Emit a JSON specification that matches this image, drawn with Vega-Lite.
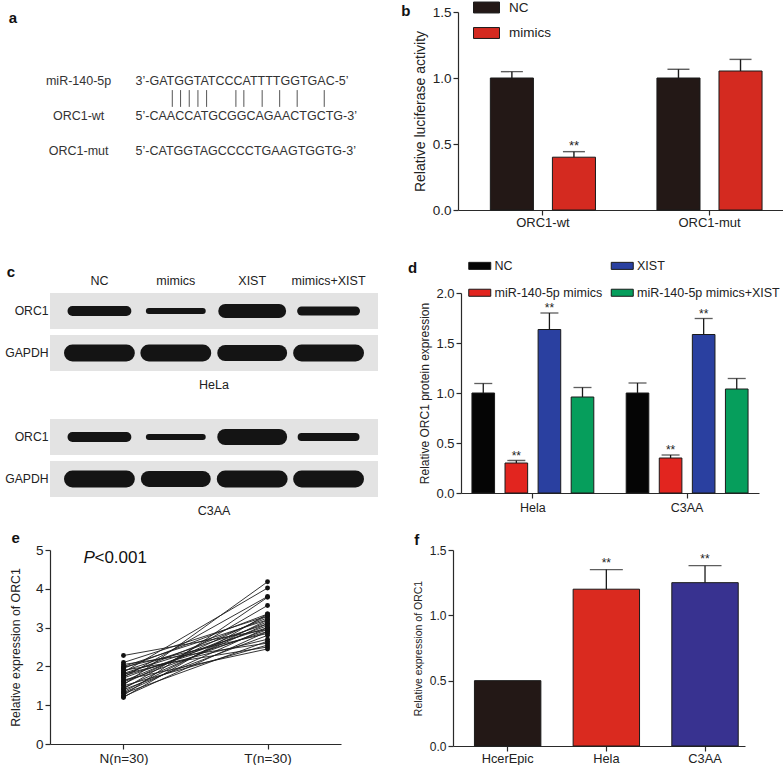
{
"$schema":"https://vega.github.io/schema/vega-lite/v6.json",
"background":"white",
"padding":{"left":4,"top":0,"right":0,"bottom":0},
"spacing":30,
"resolve":{"scale":{"color":"independent","xOffset":"independent","strokeWidth":"independent"},"legend":{"color":"independent"}},
"config":{
 "font":"Liberation Sans",
 "view":{"stroke":null},
 "axis":{"grid":false,"domainColor":"#2a2a2a","tickColor":"#2a2a2a","labelColor":"#222222","titleColor":"#222222","domainWidth":1.2,"tickWidth":1.2,"tickSize":5,"labelFontSize":13,"titleFontSize":12.5,"titleFontWeight":"normal","labelPadding":2,"titlePadding":4,"labelFont":"Liberation Sans","titleFont":"Liberation Sans"},
 "legend":{"labelColor":"#222222","labelFont":"Liberation Sans"},
 "title":{"fontSize":15,"fontWeight":"bold","anchor":"start","frame":"bounds","color":"#111111","offset":0,"font":"Liberation Sans"}
},
"vconcat":[
 {"hconcat":[
  {"width":331,"height":198,
   "data":{"values":[
    {"label":"miR-140-5p","seq":"3’-GATGGTATCCCATTTTGGTGAC-5’","line":0},
    {"label":"ORC1-wt","seq":"5’-CAACCATGCGGCAGAACTGCTG-3’","line":1},
    {"label":"ORC1-mut","seq":"5’-CATGGTAGCCCCTGAAGTGGTG-3’","line":2}
   ]},
   "layer":[
    {"mark":{"type":"text","align":"center","baseline":"middle","fontSize":12.5,"color":"#333333"},
     "encoding":{"x":{"datum":-7.16,"type":"quantitative","scale":{"domain":[-10.754,30.83],"nice":false,"zero":false},"axis":null},
      "y":{"field":"line","type":"quantitative","scale":{"domain":[-1.971,3.686],"nice":false,"zero":false,"reverse":true},"axis":null},
      "text":{"field":"label"}}},
    {"mark":{"type":"text","align":"left","baseline":"middle","fontSize":12.5,"color":"#333333"},
     "encoding":{"x":{"datum":0,"type":"quantitative"},"y":{"field":"line","type":"quantitative"},"text":{"field":"seq"}}},
    {"data":{"values":[{"pos":4.61},{"pos":5.65},{"pos":6.74},{"pos":7.83},{"pos":8.92},{"pos":12.6},{"pos":13.6},{"pos":15.9},{"pos":18.1},{"pos":20.3},{"pos":23.7}]},
     "mark":{"type":"rule","color":"#555555","strokeWidth":1},
     "encoding":{"x":{"field":"pos","type":"quantitative"},"y":{"datum":0.26,"type":"quantitative"},"y2":{"datum":0.74}}},
    {"data":{"values":[{"letter":"a"}]},
     "mark":{"type":"text","align":"left","baseline":"middle","fontSize":15,"fontWeight":"bold","color":"#111111"},
     "encoding":{"x":{"datum":-15.95,"type":"quantitative"},"y":{"datum":-1.80,"type":"quantitative"},"text":{"field":"letter"}}}
   ]},
  {"width":325,"height":198,
   "title":{"text":"b","dx":-12,"dy":22.5},
   "data":{"values":[
    {"target":"ORC1-wt","group":"NC","value":1.0,"upper":1.048,"sig":""},
    {"target":"ORC1-wt","group":"mimics","value":0.40,"upper":0.442,"sig":"**"},
    {"target":"ORC1-mut","group":"NC","value":1.0,"upper":1.066,"sig":""},
    {"target":"ORC1-mut","group":"mimics","value":1.053,"upper":1.141,"sig":""}
   ]},
   "encoding":{
    "x":{"field":"target","type":"nominal","sort":["ORC1-wt","ORC1-mut"],"scale":{"paddingInner":0.369,"paddingOuter":0.16,"align":0.607},"axis":{"title":null,"labelAngle":0,"labelFontSize":13,"labelPadding":1}},
    "xOffset":{"field":"group","type":"nominal","sort":["NC","mimics"],"scale":{"paddingInner":0.306,"paddingOuter":0}},
    "y":{"field":"value","type":"quantitative","scale":{"domain":[0,1.5],"nice":false},"title":"Relative luciferase activity","axis":{"titleFontSize":14,"values":[0,0.5,1,1.5],"format":".1f","labelFontSize":13.5,"titlePadding":5}}
   },
   "layer":[
    {"mark":{"type":"bar","stroke":"#1a1a1a","strokeWidth":1},
     "encoding":{"color":{"field":"group","type":"nominal","scale":{"domain":["NC","mimics"],"range":["#231816","#d42a20"]},
      "legend":{"title":null,"orient":"none","legendX":21.5,"legendY":-11.5,"symbolType":"M-2,-0.84H2V0.84H-2Z","symbolSize":169,"symbolStrokeColor":"#1a1a1a","symbolStrokeWidth":1,"symbolOpacity":1,"labelFontSize":13.5,"labelOffset":15.5,"rowPadding":9.5}}}},
    {"mark":{"type":"rule","color":"#1a1a1a","strokeWidth":1.4},"encoding":{"y2":{"field":"upper"}}},
    {"mark":{"type":"tick","color":"#1a1a1a","thickness":1.4,"size":22},"encoding":{"y":{"field":"upper","type":"quantitative","title":"Relative luciferase activity"}}},
    {"transform":[{"filter":"datum.sig != ''"}],"mark":{"type":"text","dy":-6,"fontSize":13,"color":"#222222"},"encoding":{"y":{"field":"upper","type":"quantitative","title":"Relative luciferase activity"},"text":{"field":"sig"}}}
   ]}
 ],"spacing":20,"resolve":{"scale":{"color":"independent","xOffset":"independent"},"legend":{"color":"independent"}}},
 {"vconcat":[
 {"hconcat":[
  {"width":328,"height":204,
   "title":{"text":"c","dx":2,"dy":10},
   "layer":[
    {"data":{"values":[{"row":"HeLa ORC1"},{"row":"HeLa GAPDH"},{"row":"C3AA ORC1"},{"row":"C3AA GAPDH"}]},
     "mark":{"type":"rect","color":"#e3e3e3"},
     "encoding":{"y":{"field":"row","type":"nominal","scale":{"domain":["HeLa ORC1","HeLa GAPDH","gap","C3AA ORC1","C3AA GAPDH"],"paddingInner":0.14,"paddingOuter":0},
      "axis":{"title":null,"domain":false,"ticks":false,"labelPadding":2,"labelFontSize":12.2,"labelExpr":"indexof(datum.value,'GAPDH')>=0 ? 'GAPDH' : (indexof(datum.value,'ORC1')>=0 ? 'ORC1' : '')"}}}},
    {"data":{"values":[
     {"row":"HeLa ORC1","lane":"NC","signal":10},
     {"row":"HeLa ORC1","lane":"mimics","signal":6},
     {"row":"HeLa ORC1","lane":"XIST","signal":14},
     {"row":"HeLa ORC1","lane":"mimics+XIST","signal":9},
     {"row":"HeLa GAPDH","lane":"NC","signal":17},
     {"row":"HeLa GAPDH","lane":"mimics","signal":17},
     {"row":"HeLa GAPDH","lane":"XIST","signal":16},
     {"row":"HeLa GAPDH","lane":"mimics+XIST","signal":17},
     {"row":"C3AA ORC1","lane":"NC","signal":10},
     {"row":"C3AA ORC1","lane":"mimics","signal":6},
     {"row":"C3AA ORC1","lane":"XIST","signal":16},
     {"row":"C3AA ORC1","lane":"mimics+XIST","signal":8},
     {"row":"C3AA GAPDH","lane":"NC","signal":17},
     {"row":"C3AA GAPDH","lane":"mimics","signal":16},
     {"row":"C3AA GAPDH","lane":"XIST","signal":17},
     {"row":"C3AA GAPDH","lane":"mimics+XIST","signal":17}
    ]},
     "mark":{"type":"point","shape":"stroke","filled":false,"strokeCap":"round","size":2900,"color":"#141414","opacity":1},
     "encoding":{"x":{"field":"lane","type":"nominal","scale":{"type":"band","domain":["NC","mimics","XIST","mimics+XIST"],"paddingInner":0,"paddingOuter":0.147},
       "axis":{"orient":"top","title":null,"domain":false,"ticks":false,"labelAngle":0,"labelPadding":6,"labelFontSize":12.5}},
      "y":{"field":"row","type":"nominal"},
      "strokeWidth":{"field":"signal","type":"quantitative","scale":{"domain":[0,20],"range":[0,20]},"legend":null}}},
    {"data":{"values":[{"cell":"HeLa","row":"HeLa GAPDH","at":"XIST"},{"cell":"C3AA","row":"C3AA GAPDH","at":"XIST"}]},
     "mark":{"type":"text","fontSize":12.5,"color":"#222222","dy":32},
     "encoding":{"x":{"field":"at","type":"nominal","bandPosition":0},"y":{"field":"row","type":"nominal"},"text":{"field":"cell"}}}
   ]},
  {"width":298,"height":200,
   "title":{"text":"d","dx":-11,"dy":20.5},
   "data":{"values":[
    {"cell":"Hela","group":"NC","value":1.0,"upper":1.095,"sig":""},
    {"cell":"Hela","group":"miR-140-5p mimics","value":0.30,"upper":0.325,"sig":"**"},
    {"cell":"Hela","group":"XIST","value":1.635,"upper":1.80,"sig":"**"},
    {"cell":"Hela","group":"miR-140-5p mimics+XIST","value":0.96,"upper":1.055,"sig":""},
    {"cell":"C3AA","group":"NC","value":1.0,"upper":1.10,"sig":""},
    {"cell":"C3AA","group":"miR-140-5p mimics","value":0.35,"upper":0.38,"sig":"**"},
    {"cell":"C3AA","group":"XIST","value":1.585,"upper":1.745,"sig":"**"},
    {"cell":"C3AA","group":"miR-140-5p mimics+XIST","value":1.04,"upper":1.145,"sig":""}
   ]},
   "encoding":{
    "x":{"field":"cell","type":"nominal","sort":["Hela","C3AA"],"scale":{"paddingInner":0.21,"paddingOuter":0.071},"axis":{"title":null,"labelAngle":0,"labelFontSize":12.5,"labelPadding":3}},
    "xOffset":{"field":"group","type":"nominal","sort":["NC","miR-140-5p mimics","XIST","miR-140-5p mimics+XIST"],"scale":{"paddingInner":0.316,"paddingOuter":0}},
    "y":{"field":"value","type":"quantitative","scale":{"domain":[0,2],"nice":false},"title":"Relative  ORC1 protein expression","axis":{"titleFontSize":12,"values":[0,0.5,1,1.5,2],"format":".1f","labelFontSize":13,"titlePadding":4}}
   },
   "layer":[
    {"mark":{"type":"bar","stroke":"#1a1a1a","strokeWidth":1},
     "encoding":{"color":{"field":"group","type":"nominal","scale":{"domain":["NC","miR-140-5p mimics","XIST","miR-140-5p mimics+XIST"],"range":["#050505","#e2251f","#2a40a0","#069e5c"]},
      "legend":{"title":null,"orient":"none","legendX":12.5,"legendY":-33.5,"columns":2,"columnPadding":6.5,"rowPadding":14,"symbolType":"M-2,-0.64H2V0.64H-2Z","symbolSize":121,"symbolStrokeColor":"#1a1a1a","symbolStrokeWidth":1,"symbolOpacity":1,"labelFontSize":12.5,"labelOffset":8.5}}}},
    {"mark":{"type":"rule","color":"#1a1a1a","strokeWidth":1.3},"encoding":{"y2":{"field":"upper"}}},
    {"mark":{"type":"tick","color":"#1a1a1a","thickness":1.3,"size":18},"encoding":{"y":{"field":"upper","type":"quantitative","title":"Relative  ORC1 protein expression"}}},
    {"transform":[{"filter":"datum.sig != ''"}],"mark":{"type":"text","dy":-5,"fontSize":12,"color":"#222222"},"encoding":{"y":{"field":"upper","type":"quantitative","title":"Relative  ORC1 protein expression"},"text":{"field":"sig"}}}
   ]}
 ],"spacing":17,"resolve":{"scale":{"color":"independent","xOffset":"independent","strokeWidth":"independent"},"legend":{"color":"independent"}}},
 {"hconcat":[
  {"width":291,"height":194,
   "title":{"text":"e","dx":2,"dy":7},
   "data":{"values":[
    {"id":1,"g":"N(n=30)","v":2.28},{"id":1,"g":"T(n=30)","v":2.95},
    {"id":2,"g":"N(n=30)","v":2.10},{"id":2,"g":"T(n=30)","v":3.30},
    {"id":3,"g":"N(n=30)","v":2.05},{"id":3,"g":"T(n=30)","v":2.60},
    {"id":4,"g":"N(n=30)","v":2.00},{"id":4,"g":"T(n=30)","v":3.20},
    {"id":5,"g":"N(n=30)","v":1.98},{"id":5,"g":"T(n=30)","v":2.85},
    {"id":6,"g":"N(n=30)","v":1.95},{"id":6,"g":"T(n=30)","v":3.35},
    {"id":7,"g":"N(n=30)","v":1.90},{"id":7,"g":"T(n=30)","v":2.50},
    {"id":8,"g":"N(n=30)","v":1.88},{"id":8,"g":"T(n=30)","v":3.10},
    {"id":9,"g":"N(n=30)","v":1.85},{"id":9,"g":"T(n=30)","v":4.02},
    {"id":10,"g":"N(n=30)","v":1.82},{"id":10,"g":"T(n=30)","v":3.00},
    {"id":11,"g":"N(n=30)","v":1.80},{"id":11,"g":"T(n=30)","v":2.70},
    {"id":12,"g":"N(n=30)","v":1.78},{"id":12,"g":"T(n=30)","v":3.25},
    {"id":13,"g":"N(n=30)","v":1.75},{"id":13,"g":"T(n=30)","v":2.90},
    {"id":14,"g":"N(n=30)","v":1.72},{"id":14,"g":"T(n=30)","v":3.80},
    {"id":15,"g":"N(n=30)","v":1.70},{"id":15,"g":"T(n=30)","v":3.05},
    {"id":16,"g":"N(n=30)","v":1.65},{"id":16,"g":"T(n=30)","v":2.45},
    {"id":17,"g":"N(n=30)","v":1.62},{"id":17,"g":"T(n=30)","v":3.15},
    {"id":18,"g":"N(n=30)","v":1.60},{"id":18,"g":"T(n=30)","v":2.95},
    {"id":19,"g":"N(n=30)","v":1.55},{"id":19,"g":"T(n=30)","v":3.30},
    {"id":20,"g":"N(n=30)","v":1.52},{"id":20,"g":"T(n=30)","v":4.18},
    {"id":21,"g":"N(n=30)","v":1.50},{"id":21,"g":"T(n=30)","v":2.55},
    {"id":22,"g":"N(n=30)","v":1.45},{"id":22,"g":"T(n=30)","v":3.10},
    {"id":23,"g":"N(n=30)","v":1.42},{"id":23,"g":"T(n=30)","v":3.57},
    {"id":24,"g":"N(n=30)","v":1.40},{"id":24,"g":"T(n=30)","v":2.80},
    {"id":25,"g":"N(n=30)","v":1.35},{"id":25,"g":"T(n=30)","v":3.20},
    {"id":26,"g":"N(n=30)","v":1.32},{"id":26,"g":"T(n=30)","v":3.00},
    {"id":27,"g":"N(n=30)","v":1.30},{"id":27,"g":"T(n=30)","v":2.65},
    {"id":28,"g":"N(n=30)","v":1.25},{"id":28,"g":"T(n=30)","v":3.78},
    {"id":29,"g":"N(n=30)","v":1.22},{"id":29,"g":"T(n=30)","v":2.90},
    {"id":30,"g":"N(n=30)","v":1.20},{"id":30,"g":"T(n=30)","v":3.35}
   ]},
   "encoding":{
    "x":{"field":"g","type":"nominal","sort":["N(n=30)","T(n=30)"],"scale":{"type":"point","padding":0.51},"axis":{"title":null,"labelAngle":0,"labelFontSize":13.5,"labelPadding":2}},
    "y":{"field":"v","type":"quantitative","scale":{"domain":[0,5],"nice":false},"title":"Relative expression of ORC1","axis":{"titleFontSize":12.3,"values":[0,1,2,3,4,5],"labelFontSize":13.5,"titlePadding":13}}
   },
   "layer":[
    {"mark":{"type":"line","color":"#1e1e1e","strokeWidth":0.9},"encoding":{"detail":{"field":"id","type":"nominal"}}},
    {"mark":{"type":"point","filled":true,"size":24,"color":"#111111","opacity":1}},
    {"data":{"values":[{"p":"P","rest":"<0.001","g":"N(n=30)","v":4.8}]},
     "mark":{"type":"text","align":"left","baseline":"middle","fontSize":17,"fontStyle":"italic","dx":-40,"color":"#111111"},
     "encoding":{"text":{"field":"p"}}},
    {"data":{"values":[{"p":"P","rest":"<0.001","g":"N(n=30)","v":4.8}]},
     "mark":{"type":"text","align":"left","baseline":"middle","fontSize":17,"dx":-29,"color":"#111111"},
     "encoding":{"text":{"field":"rest"}}}
   ]},
  {"width":292,"height":196,
   "title":{"text":"f","dx":1,"dy":8},
   "data":{"values":[
    {"cell":"HcerEpic","value":0.5,"upper":0.5,"sig":""},
    {"cell":"Hela","value":1.20,"upper":1.35,"sig":"**"},
    {"cell":"C3AA","value":1.25,"upper":1.38,"sig":"**"}
   ]},
   "encoding":{
    "x":{"field":"cell","type":"nominal","sort":["HcerEpic","Hela","C3AA"],"scale":{"paddingInner":0.327,"paddingOuter":0.143,"align":0.76},"axis":{"title":null,"labelAngle":0,"labelFontSize":12.8,"labelPadding":1}},
    "y":{"field":"value","type":"quantitative","scale":{"domain":[0,1.5],"nice":false},"title":"Relative expression of ORC1","axis":{"titleFontSize":10.5,"values":[0,0.5,1,1.5],"format":".1f","labelFontSize":12,"titlePadding":6}}
   },
   "layer":[
    {"mark":{"type":"bar","stroke":"#1a1a1a","strokeWidth":1},
     "encoding":{"color":{"field":"cell","type":"nominal","scale":{"domain":["HcerEpic","Hela","C3AA"],"range":["#231816","#da2a1f","#383290"]},"legend":null}}},
    {"transform":[{"filter":"datum.upper > datum.value"}],"mark":{"type":"rule","color":"#1a1a1a","strokeWidth":1.3},"encoding":{"y2":{"field":"upper"}}},
    {"transform":[{"filter":"datum.upper > datum.value"}],"mark":{"type":"tick","color":"#1a1a1a","thickness":1.3,"size":33},"encoding":{"y":{"field":"upper","type":"quantitative","title":"Relative expression of ORC1"}}},
    {"transform":[{"filter":"datum.sig != ''"}],"mark":{"type":"text","dy":-7,"fontSize":12,"color":"#222222"},"encoding":{"y":{"field":"upper","type":"quantitative","title":"Relative expression of ORC1"},"text":{"field":"sig"}}}
   ]}
 ],"spacing":72,"resolve":{"scale":{"color":"independent"},"legend":{"color":"independent"}}}
 ],"spacing":13,"resolve":{"scale":{"color":"independent","xOffset":"independent","strokeWidth":"independent"},"legend":{"color":"independent"}}}
]
}
